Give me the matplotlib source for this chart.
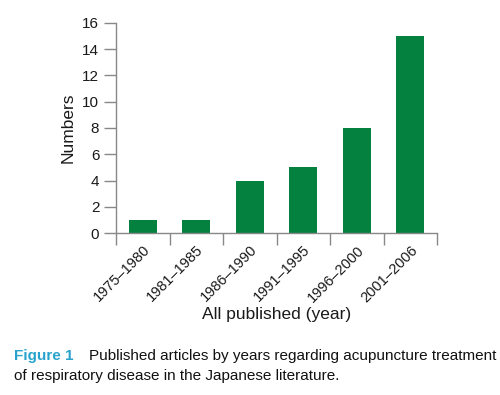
import matplotlib.pyplot as plt
import numpy as np

periods = ['1975–1980', '1981–1985', '1986–1990', '1991–1995', '1996–2000', '2001–2006']
counts = [1, 1, 4, 5, 8, 15]
yticks = [0, 2, 4, 6, 8, 10, 12, 14, 16]

plt.rcParams['font.family'] = ['Liberation Sans', 'DejaVu Sans']

fig = plt.figure(figsize=(5, 3.95), dpi=100)
ax = fig.add_axes([0.232, 0.41, 0.642, 0.532])

x = np.arange(len(periods))
ax.bar(x, counts, width=0.52, color='#04803f', zorder=2)

ax.set_xlim(-0.5, len(periods) - 0.5)
ax.set_ylim(0, 16)
ax.set_yticks(yticks)
ax.set_yticklabels([str(t) for t in yticks], fontsize=11, color='#1a1a1a')

ax.set_xticks(x)
ax.set_xticklabels(periods, rotation=45, ha='right', rotation_mode='anchor',
                   fontsize=10.5, color='#1a1a1a')
ax.tick_params(axis='x', length=0, pad=7)
ax.set_xticks(np.arange(len(periods) + 1) - 0.5, minor=True)
ax.tick_params(axis='x', which='minor', length=8.5, color='#888888', width=1)
ax.tick_params(axis='y', length=8.5, color='#888888', width=1, pad=3.5)

for s in ['top', 'right']:
    ax.spines[s].set_visible(False)
for s in ['left', 'bottom']:
    ax.spines[s].set_color('#888888')
    ax.spines[s].set_linewidth(1)

ax.set_ylabel('Numbers', fontsize=12.5, color='#1a1a1a', labelpad=5)
fig.text(0.553, 0.203, 'All published (year)', fontsize=12.5, color='#1a1a1a',
         ha='center', va='center')

fig.text(0.027, 0.099, 'Figure 1', fontsize=11, color='#29a3cc', weight='bold',
         ha='left', va='center')
fig.text(0.178, 0.099, 'Published articles by years regarding acupuncture treatment',
         fontsize=11, color='#111111', ha='left', va='center')
fig.text(0.027, 0.048, 'of respiratory disease in the Japanese literature.',
         fontsize=11, color='#111111', ha='left', va='center')

fig.savefig('out.png', dpi=100)
